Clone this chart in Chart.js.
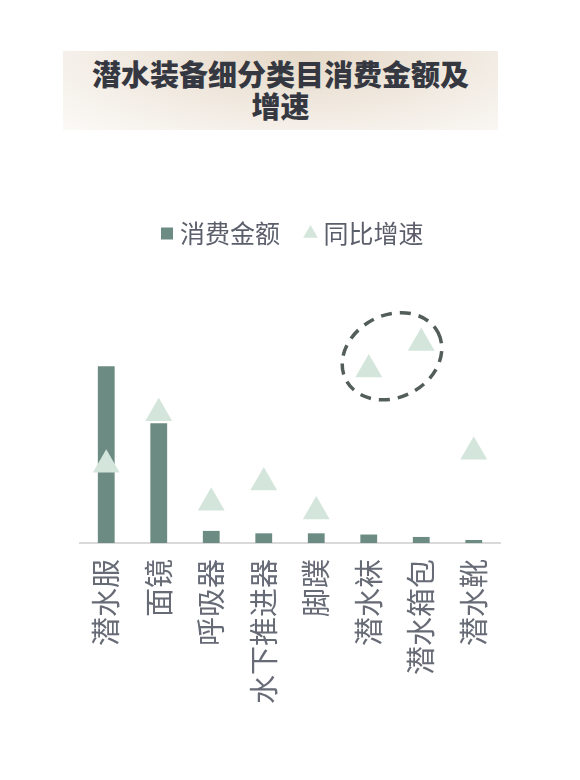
<!DOCTYPE html>
<html>
<head>
<meta charset="utf-8">
<script src="https://cdn.jsdelivr.net/npm/chart.js@4.4.1/dist/chart.umd.min.js"></script>
<style>
  html, body { margin: 0; padding: 0; background: #ffffff; }
  body { width: 580px; height: 780px; position: relative; overflow: hidden; font-family: "Noto Sans CJK SC", "Noto Sans", sans-serif; }
  .title-box {
    position: absolute; left: 63px; top: 51px; width: 435px; height: 79px;
    background: radial-gradient(ellipse 75% 140% at 55% 0%, #e5d8c7 0%, #efe7dd 45%, #fbf9f6 100%);
  }
  .title {
    position: absolute; left: 63px; top: 57px; width: 435px; text-align: center;
    font-size: 29px; line-height: 32px; font-weight: 900; color: #353841;
  }
  #wrap { position: absolute; left: 0; top: 191px; width: 580px; height: 589px; }
</style>
</head>
<body>
<div class="title-box"></div>
<div class="title">潜水装备细分类目消费金额及<br>增速</div>
<div id="wrap"><canvas id="chart"></canvas></div>
<script>
// categories and series (values are estimates)
const categories = ['潜水服', '面镜', '呼吸器', '水下推进器', '脚蹼', '潜水袜', '潜水箱包', '潜水靴'];
const spendValues = [146, 99, 10, 8, 8, 7, 5, 2.5];     // 消费金额
const growthValues = [97, 161, 50, 75, 39, 215, 248, 113]; // 同比增速 (%)
const highlighted = [5, 6]; // points circled by the dashed ellipse

// dashed ellipse round the highlighted growth points
const ellipsePlugin = {
  id: 'ellipseMark',
  afterDatasetsDraw(chart) {
    const pts = chart.getDatasetMeta(1).data;
    const p1 = pts[highlighted[0]], p2 = pts[highlighted[1]];
    if (!p1 || !p2) return;
    const cx = (p1.x + p2.x) / 2 - 3;
    const cy = (p1.y + p2.y) / 2;
    const d = Math.hypot(p2.x - p1.x, p2.y - p1.y);
    const ang = Math.atan2(p2.y - p1.y, p2.x - p1.x);
    const ctx = chart.ctx;
    ctx.save();
    ctx.setLineDash([11, 8]);
    ctx.lineWidth = 3.5;
    ctx.strokeStyle = '#535e5a';
    ctx.beginPath();
    ctx.ellipse(cx, cy, d * 0.88, d * 0.7, ang, 0, Math.PI * 2);
    ctx.stroke();
    ctx.restore();
  }
};

// extra room between legend and plot, legend nudged a little right
const legendGap = {
  id: 'legendGap',
  beforeInit(chart) {
    if (!chart.legend) return;
    const fit = chart.legend.fit;
    chart.legend.fit = function () {
      fit.bind(chart.legend)();
      this.height += 45;
    };
  },
  afterLayout(chart) {
    if (!chart.legend) return;
    chart.legend.left += 5;
    chart.legend.right += 5;
  }
};

new Chart(document.getElementById('chart'), {
  data: {
    labels: categories,
    datasets: [
      {
        type: 'bar',
        label: '消费金额',
        data: spendValues,
        backgroundColor: '#6c8b83',
        borderWidth: 0,
        pointStyle: 'rect',
        barPercentage: 0.4,
        categoryPercentage: 0.8,
        yAxisID: 'y',
        order: 1
      },
      {
        type: 'line',
        label: '同比增速',
        data: growthValues,
        showLine: false,
        pointStyle: 'triangle',
        pointRadius: 15.5,
        pointHoverRadius: 15.5,
        backgroundColor: '#d4e5dc',
        pointBackgroundColor: '#d4e5dc',
        borderColor: '#d4e5dc',
        pointBorderWidth: 0,
        borderWidth: 0,
        yAxisID: 'y2',
        clip: false,
        order: 0
      }
    ]
  },
  options: {
    responsive: true,
    maintainAspectRatio: false,
    animation: false,
    layout: { padding: { left: 80, right: 80, top: 0, bottom: 60 } },
    plugins: {
      legend: {
        position: 'top',
        labels: {
          usePointStyle: true,
          boxWidth: 1,
          boxHeight: 12,
          padding: 30,
          color: '#5b5f6b',
          font: { size: 25, family: '"Noto Sans CJK SC", sans-serif' },
          sort: (a, b) => a.datasetIndex - b.datasetIndex
        }
      },
      tooltip: { enabled: false }
    },
    scales: {
      x: {
        grid: { display: false, drawTicks: false },
        border: { display: true, color: '#d9d9d9', width: 2 },
        ticks: {
          minRotation: 90,
          maxRotation: 90,
          padding: 16,
          color: '#676b76',
          font: { size: 29, family: '"Noto Sans CJK SC", sans-serif' }
        }
      },
      y: { display: false, min: 0, max: 200 },
      y2: { display: false, min: 0, max: 300, position: 'right' }
    }
  },
  plugins: [legendGap, ellipsePlugin]
});
</script>
</body>
</html>
